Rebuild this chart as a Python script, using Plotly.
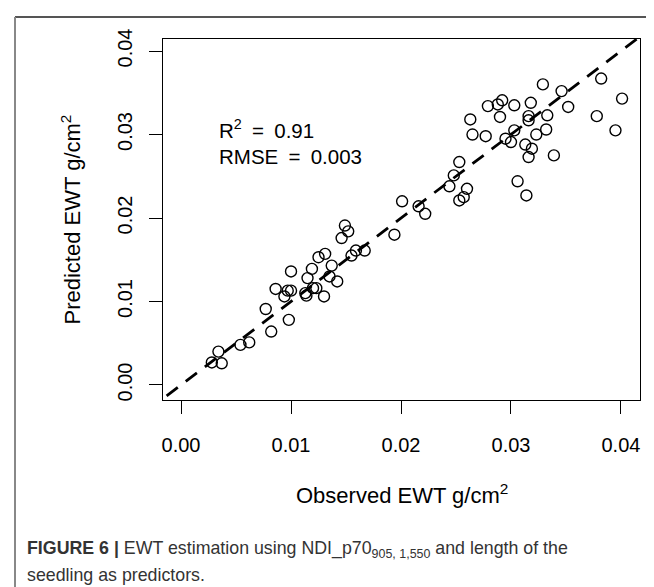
import plotly.graph_objects as go

observed = [0.0155, 0.0159, 0.0167, 0.0125, 0.0131, 0.0100, 0.0119, 0.0137, 0.0115, 0.0135,
            0.0142, 0.0086, 0.0097, 0.0100, 0.0094, 0.0113, 0.0114, 0.0120, 0.0123, 0.0130,
            0.0077, 0.0098, 0.0082, 0.0054, 0.0062, 0.0034, 0.0028, 0.0037,
            0.0149, 0.0152, 0.0146,
            0.0382, 0.0401, 0.0329, 0.0346, 0.0352, 0.0378, 0.0395, 0.0279, 0.0288, 0.0292,
            0.0303, 0.0318, 0.0263, 0.0290, 0.0316, 0.0316, 0.0333, 0.0265, 0.0277, 0.0303,
            0.0295, 0.0300, 0.0323, 0.0332, 0.0313, 0.0319, 0.0316, 0.0339, 0.0253, 0.0248,
            0.0244, 0.0260, 0.0257, 0.0253, 0.0306, 0.0314, 0.0201, 0.0216, 0.0222, 0.0194]
predicted = [0.0155, 0.0161, 0.0161, 0.0153, 0.0157, 0.0136, 0.0139, 0.0143, 0.0128, 0.0130,
             0.0124, 0.0115, 0.0113, 0.0113, 0.0106, 0.0110, 0.0107, 0.0116, 0.0116, 0.0106,
             0.0091, 0.0078, 0.0064, 0.0048, 0.0051, 0.0040, 0.0027, 0.0026,
             0.0191, 0.0184, 0.0176,
             0.0367, 0.0343, 0.0360, 0.0352, 0.0333, 0.0322, 0.0305, 0.0334, 0.0336, 0.0341,
             0.0335, 0.0338, 0.0318, 0.0321, 0.0322, 0.0317, 0.0323, 0.0300, 0.0298, 0.0305,
             0.0295, 0.0291, 0.0300, 0.0306, 0.0288, 0.0283, 0.0273, 0.0275, 0.0267, 0.0251,
             0.0238, 0.0235, 0.0225, 0.0221, 0.0244, 0.0227, 0.0220, 0.0214, 0.0205, 0.0180]

tick_vals = [0.00, 0.01, 0.02, 0.03, 0.04]
tick_text = ["0.00", "0.01", "0.02", "0.03", "0.04"]
x_range = [-0.00164, 0.04173]
y_range = [-0.00180, 0.04144]

font_main = "Liberation Sans, Arial, Helvetica, sans-serif"

# plot box in pixels
L, R, T, B = 155, 632, 31, 392
W, H = R - L, B - T


def px_x(x):
    return (x - L) / W


def px_y(y):
    return (B - y) / H


fig = go.Figure()

# 1:1 line
fig.add_trace(go.Scatter(
    x=[-0.01, 0.05], y=[-0.01, 0.05], mode="lines",
    line=dict(color="black", width=2.8, dash="14px,10px"),
    hoverinfo="skip", showlegend=False))

fig.add_trace(go.Scatter(
    x=observed, y=predicted, mode="markers",
    marker=dict(symbol="circle-open", size=11, color="black", line=dict(width=1.4, color="black")),
    showlegend=False))

axis_common = dict(
    showgrid=False, zeroline=False, showline=True, mirror=True,
    linecolor="black", linewidth=1, ticks="outside", ticklen=13, tickwidth=1,
    tickcolor="black", tickvals=tick_vals, ticktext=tick_text, automargin=False,
    tickfont=dict(family=font_main, size=20, color="black"))

fig.update_xaxes(range=x_range, ticklabelstandoff=14, **axis_common)
fig.update_yaxes(range=y_range, tickangle=-90, ticklabelstandoff=9, **axis_common)

fig.update_layout(
    width=654, height=587,
    margin=dict(l=L, r=654 - R, t=T, b=587 - B),
    paper_bgcolor="white", plot_bgcolor="white",
    font=dict(family=font_main, color="black"),
)

# Axis titles
fig.add_annotation(text="Observed EWT g/cm<sup>2</sup>", xref="paper", yref="paper",
                   x=0.5, y=px_y(486), xanchor="center", yanchor="middle", showarrow=False,
                   font=dict(family=font_main, size=22, color="black"))
fig.add_annotation(text="Predicted EWT g/cm<sup>2</sup>", xref="paper", yref="paper",
                   x=px_x(62), y=0.5, xanchor="center", yanchor="middle", showarrow=False,
                   textangle=-90, font=dict(family=font_main, size=22, color="black"))

# Stats text
sp = "\u2002=\u2002"
fig.add_annotation(text="R<sup>2</sup>" + sp + "0.91<br>RMSE" + sp + "0.003",
                   xref="paper", yref="paper",
                   x=px_x(209), y=px_y(134), xanchor="left", yanchor="middle", align="left",
                   showarrow=False, font=dict(family=font_main, size=20.5, color="black"))

# Caption
cap_font = "Liberation Sans, Arial, sans-serif"
fig.add_annotation(
    text="<b>FIGURE 6 |</b> EWT estimation using NDI_p70<sub>905, 1,550</sub> and length of the",
    xref="paper", yref="paper", x=px_x(17), y=px_y(541),
    xanchor="left", yanchor="middle", align="left", showarrow=False,
    font=dict(family=cap_font, size=17.8, color="#333333"))
fig.add_annotation(
    text="seedling as predictors.",
    xref="paper", yref="paper", x=px_x(17), y=px_y(567),
    xanchor="left", yanchor="middle", align="left", showarrow=False,
    font=dict(family=cap_font, size=17.8, color="#333333"))

# Outer frame (top and left edges)
fig.add_shape(type="line", xref="paper", yref="paper",
              x0=px_x(7), x1=px_x(660), y0=px_y(9), y1=px_y(9),
              line=dict(color="#555555", width=2))
fig.add_shape(type="line", xref="paper", yref="paper",
              x0=px_x(7), x1=px_x(7), y0=px_y(9), y1=px_y(600),
              line=dict(color="#888888", width=2))

fig.write_html("out.html")
